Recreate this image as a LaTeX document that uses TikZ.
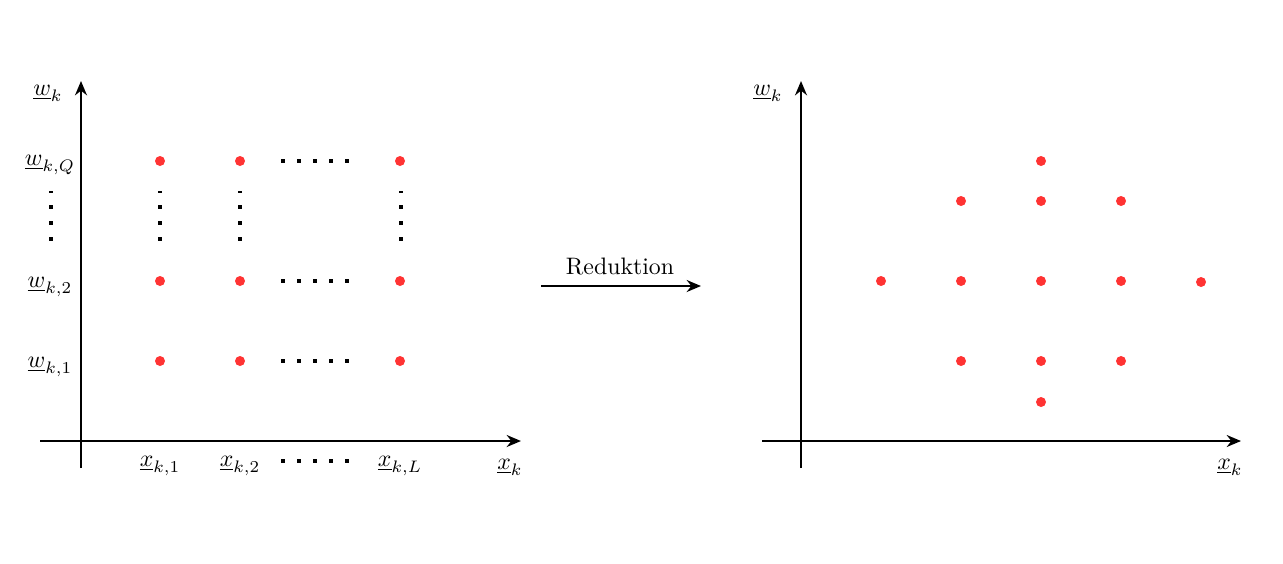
\documentclass[tikz,border=0pt]{standalone}
\usetikzlibrary{arrows.meta}
\begin{document}
\begin{tikzpicture}[x=0.42pt,y=-0.42pt,
  ax/.style={line width=1.2pt,-{Stealth[length=6pt,width=5pt]}},
  pt/.style={circle,fill=red!80!white,inner sep=0pt,minimum size=4.2pt},
  sq/.style={fill=black,inner sep=0pt,minimum size=1.3pt},
  lab/.style={inner sep=0pt}]
\useasboundingbox (0,0) rectangle (1283,563);
% left axes
\coordinate (lx0) at (40,441); \coordinate (lx1) at (521,441);
\coordinate (ly0) at (81,468); \coordinate (ly1) at (81,81);
\draw[ax] (lx0) -- (lx1);
\draw[ax] (ly0) -- (ly1);
\foreach \x in {160,240,400} \foreach \y in {161,281,361} \node[pt] at (\x,\y) {};
\foreach \y in {161,281,361,461} \foreach \x in {283,299,315,331,347} \node[sq] at (\x,\y) {};
\foreach \x in {51,160,240,401} {\foreach \y in {207,223,239} \node[sq] at (\x,\y) {};
  \node[fill=black,inner sep=0pt,minimum width=1.3pt,minimum height=0.5pt] at (\x,192) {};}
\node[lab] (wl) at (48,93) {$\underline{w}_k$};
\node[lab] (wQ) at (50,165) {$\underline{w}_{k,Q}$};
\node[lab] (w2) at (50,287) {$\underline{w}_{k,2}$};
\node[lab] (w1) at (50,367) {$\underline{w}_{k,1}$};
\node[lab] (x1) at (160,466) {$\underline{x}_{k,1}$};
\node[lab] (x2) at (240,466) {$\underline{x}_{k,2}$};
\node[lab] (xL) at (400,466) {$\underline{x}_{k,L}$};
\node[lab] (xl) at (510,467) {$\underline{x}_k$};
% arrow
\node[lab] (red) at (620,266) {Reduktion};
\coordinate (a0) at (541,286); \coordinate (a1) at (701,286);
\draw[ax] (a0) -- (a1);
% right axes
\coordinate (rx0) at (762,441); \coordinate (rx1) at (1241,441);
\coordinate (ry0) at (801,468); \coordinate (ry1) at (801,81);
\draw[ax] (rx0) -- (rx1);
\draw[ax] (ry0) -- (ry1);
\foreach \p in {(1041,161),(961,201),(1041,201),(1121,201),(881,281),(961,281),(1041,281),(1121,281),(1201,282),(961,361),(1041,361),(1121,361),(1041,402)}
  \node[pt] at \p {};
\node[lab] (wr) at (768,93) {$\underline{w}_k$};
\node[lab] (xr) at (1230,467) {$\underline{x}_k$};
\end{tikzpicture}
\end{document}
